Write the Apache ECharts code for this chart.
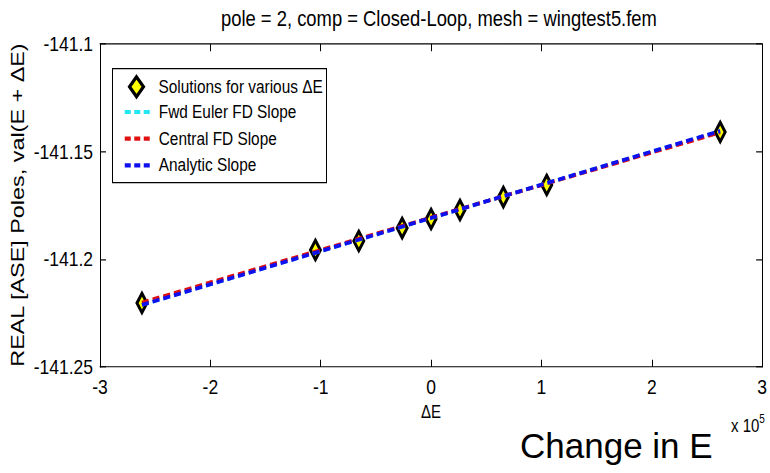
<!DOCTYPE html>
<html>
<head>
<meta charset="utf-8">
<script src="https://cdn.jsdelivr.net/npm/echarts@6/dist/echarts.min.js"></script>
<style>
  html, body { margin: 0; padding: 0; background: #ffffff; width: 770px; height: 473px; overflow: hidden; }
  #frame { position: relative; width: 770px; height: 473px; overflow: hidden; background: #ffffff; }
  /* The figure is drawn in a shorter box and stretched vertically,
     which gives the tall, narrow lettering of the exported plot. */
  #chart { position: absolute; left: 0; top: 0; width: 770px; height: 394px; transform-origin: 0 0; }
</style>
</head>
<body>
<div id="frame"><div id="chart"></div></div>
<script>
// Perturbation sizes ΔE and the resulting real part of pole 2
const deltaE = [-262000, -104800, -65500, -26200, 0, 26200, 65500, 104800, 262000];
const poleReal = [-141.2203, -141.1957, -141.1915, -141.1855, -141.1813, -141.1771, -141.1711, -141.1655, -141.1409];

// Slope lines through the nominal solution, evaluated at the end perturbations
const slopeX = [-262000, 262000];
const fwdEulerY = [-141.2211, -141.1405];
const centralY = [-141.2201, -141.1411];
const analyticY = [-141.2212, -141.1404];

// Axis ticks (x ticks in units of 1e5)
const xTicks = [-3, -2, -1, 0, 1, 2, 3];
const yTicks = [-141.25, -141.2, -141.15, -141.1];

const seriesNames = ['Solutions for various ΔE', 'Fwd Euler FD Slope', 'Central FD Slope', 'Analytic Slope'];

const FONT = "'Liberation Sans', Arial, sans-serif";
const STRETCH = 473 / 394;
document.getElementById('chart').style.transform = 'scaleY(' + STRETCH + ')';

const xScale = 1e5;
const xMin = xTicks[0] * xScale, xMax = xTicks[xTicks.length - 1] * xScale;
const xStep = (xTicks[1] - xTicks[0]) * xScale;
const yMin = yTicks[0], yMax = yTicks[yTicks.length - 1];
const yStep = +(yTicks[1] - yTicks[0]).toFixed(4);

const pts = deltaE.map((x, i) => [x, poleReal[i]]);
const line = ys => slopeX.map((x, i) => [x, ys[i]]);

const boxAxis = {
  axisLine: { show: true, onZero: false, lineStyle: { color: '#000', width: 1 } },
  axisTick: { show: true, inside: true, length: 6, lineStyle: { color: '#000' } },
  splitLine: { show: false }
};

const chart = echarts.init(document.getElementById('chart'), null, { renderer: 'svg' });

const dashStyle = (color) => ({ color: color, width: 3.2, type: [7, 4] });

chart.setOption({
  backgroundColor: '#ffffff',
  animation: false,
  title: {
    text: 'pole = 2, comp = Closed-Loop, mesh = wingtest5.fem',
    left: 216,
    top: 1.5,
    textStyle: { fontFamily: FONT, fontSize: 18.4, fontWeight: 'normal', color: '#000' }
  },
  grid: { left: 100, right: 4, top: 36.6, bottom: 88.3, containLabel: false },
  xAxis: [
    Object.assign({
      type: 'value', min: xMin, max: xMax, interval: xStep,
      name: 'ΔE', nameLocation: 'middle', nameGap: 29,
      nameTextStyle: { fontFamily: FONT, fontSize: 15, color: '#000' },
      axisLabel: {
        margin: 7.5, color: '#000', fontFamily: FONT, fontSize: 17.5,
        formatter: v => String(Math.round(v / xScale))
      }
    }, boxAxis),
    Object.assign({
      type: 'value', position: 'top', min: xMin, max: xMax, interval: xStep,
      axisLabel: { show: false }
    }, boxAxis)
  ],
  yAxis: [
    Object.assign({
      type: 'value', position: 'left', min: yMin, max: yMax, interval: yStep,
      axisLabel: { margin: 7, color: '#000', fontFamily: FONT, fontSize: 17.5 }
    }, boxAxis),
    Object.assign({
      type: 'value', position: 'right', min: yMin, max: yMax, interval: yStep,
      axisLabel: { show: false }
    }, boxAxis)
  ],
  legend: [
    {
      data: [seriesNames[0]],
      orient: 'vertical', left: 128, top: 62.5, padding: 0,
      itemWidth: 14, itemHeight: 16.5,
      icon: 'diamond',
      itemStyle: { color: '#ffff00', borderColor: '#000', borderWidth: 3 },
      textStyle: { fontFamily: FONT, fontSize: 15.4, lineHeight: 15, color: '#000', padding: [0, 0, 0, 10] }
    },
    {
      data: seriesNames.slice(1),
      orient: 'vertical', left: 123, top: 85.8, padding: 0,
      itemWidth: 25, itemHeight: 15, itemGap: 7.2,
      itemStyle: { color: 'rgba(0,0,0,0)', borderWidth: 0 },
      lineStyle: { width: 3.5, type: [6, 3.5] },
      textStyle: { fontFamily: FONT, fontSize: 15.4, lineHeight: 15, color: '#000', padding: [0, 0, 0, 4] }
    }
  ],
  graphic: [
    {
      type: 'rect', left: 112, top: 56.7, z: -1,
      shape: { width: 214, height: 95 },
      style: { fill: '#fff', stroke: '#000', lineWidth: 1 }
    },
    {
      type: 'text', x: 18, y: 170.8, rotation: Math.PI / 2, scaleX: 1.3 / STRETCH,
      style: {
        text: 'REAL [ASE] Poles, val(E + ΔE)', fill: '#000',
        font: '18px ' + FONT, align: 'center', verticalAlign: 'middle'
      }
    },
    {
      type: 'text', x: 731, y: 344,
      style: {
        text: '{b|x 10}{s|5}', fill: '#000',
        rich: {
          b: { fontFamily: FONT, fontSize: 15, color: '#000', verticalAlign: 'bottom', lineHeight: 18 },
          s: { fontFamily: FONT, fontSize: 10, color: '#000', verticalAlign: 'top', lineHeight: 18, padding: [0, 0, 7, 0] }
        }
      }
    },
    {
      // annotation in plain, unstretched lettering
      type: 'text', x: 520, y: 356.5, scaleY: 1 / STRETCH,
      style: { text: 'Change in E', fill: '#000', font: '35px ' + FONT }
    }
  ],
  series: [
    {
      name: seriesNames[0], type: 'scatter', data: pts,
      symbol: 'diamond', symbolSize: [10, 16],
      itemStyle: { color: '#ffff00', borderColor: '#000', borderWidth: 3, opacity: 1 },
      z: 2
    },
    {
      name: seriesNames[1], type: 'line', data: line(fwdEulerY),
      showSymbol: false, symbol: 'none', lineStyle: dashStyle('#22e6f0'), itemStyle: { color: '#22e6f0' }, z: 3
    },
    {
      name: seriesNames[2], type: 'line', data: line(centralY),
      showSymbol: false, symbol: 'none', lineStyle: dashStyle('#e01010'), itemStyle: { color: '#e01010' }, z: 4
    },
    {
      name: seriesNames[3], type: 'line', data: line(analyticY),
      showSymbol: false, symbol: 'none', lineStyle: dashStyle('#1010ee'), itemStyle: { color: '#1010ee' }, z: 5
    }
  ]
});
</script>
</body>
</html>
